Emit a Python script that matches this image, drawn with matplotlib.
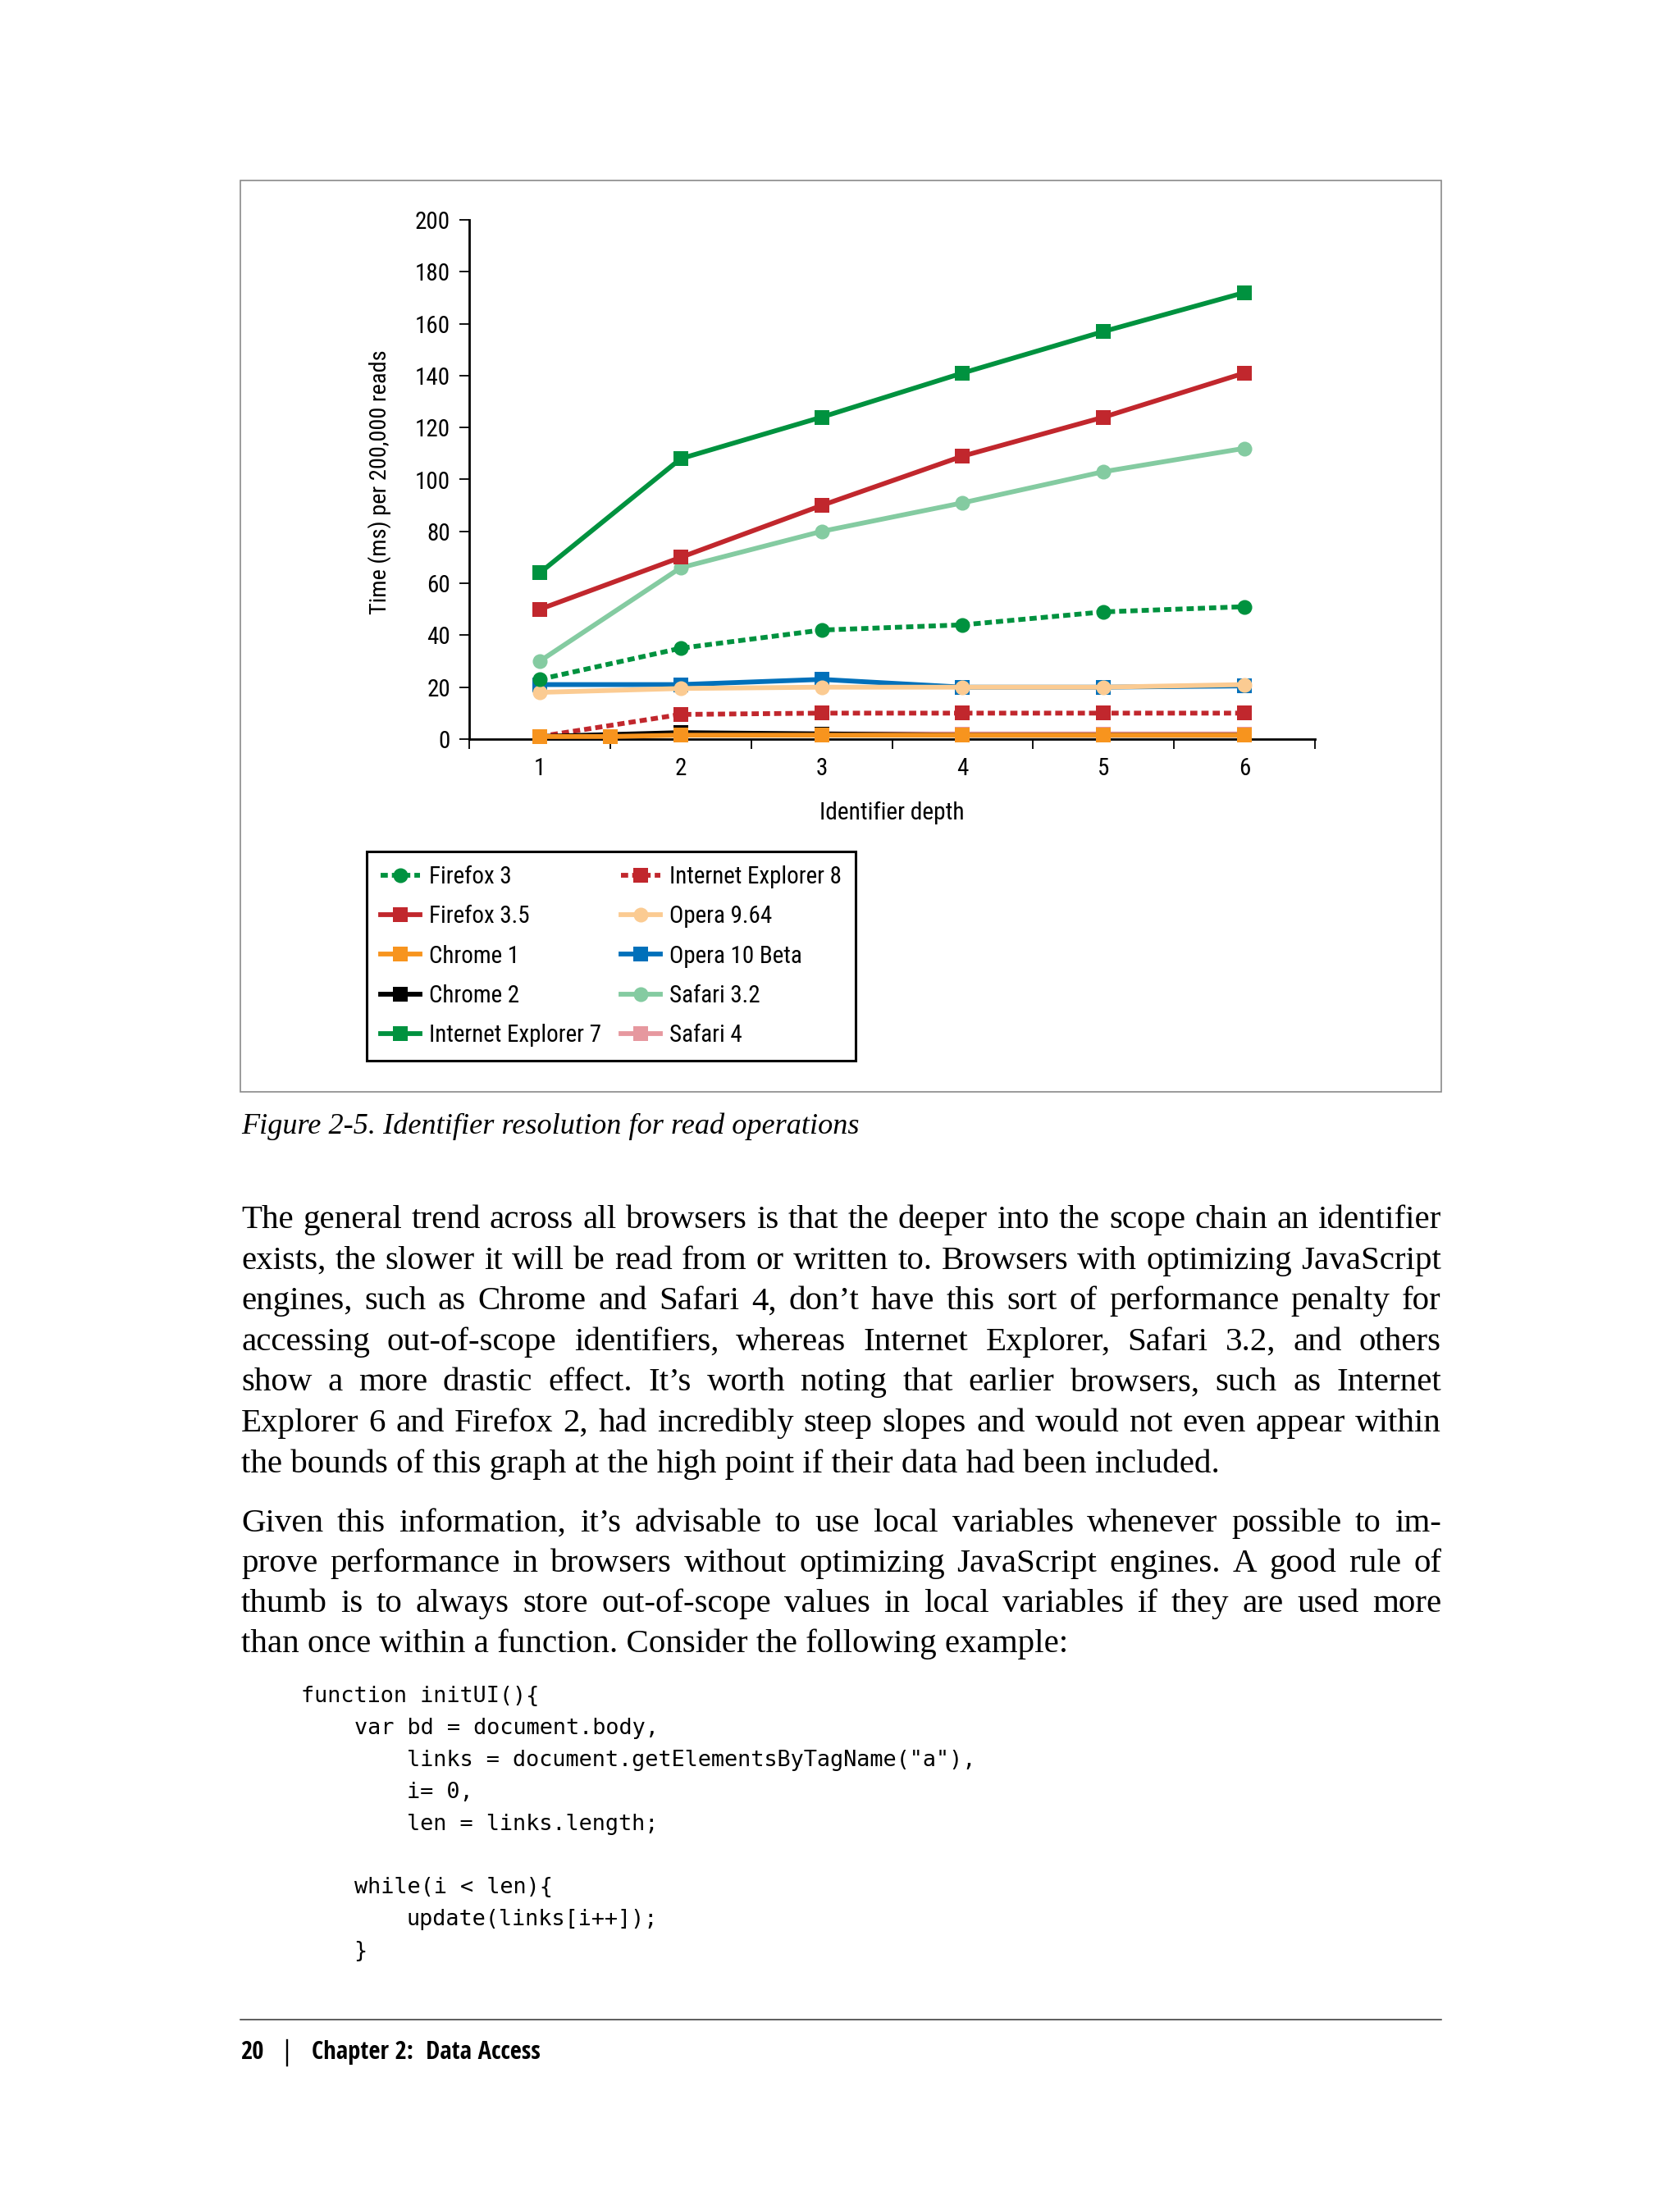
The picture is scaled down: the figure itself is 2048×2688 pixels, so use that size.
import os
import matplotlib
matplotlib.use("Agg")
import matplotlib.pyplot as plt
from matplotlib import font_manager as fm
from matplotlib.font_manager import FontProperties
from matplotlib.lines import Line2D
from matplotlib.patches import Rectangle

# ---------------- data ----------------
depth = [1, 2, 3, 4, 5, 6]
chrome1_depth = [1, 1.5, 2, 3, 4, 5, 6]

firefox3 = [23, 35, 42, 44, 49, 51]
firefox35 = [50, 70, 90, 109, 124, 141]
chrome1 = [1, 1, 1.5, 1.5, 1.5, 1.5, 1.5]
chrome2 = [1, 2.5, 2, 1.5, 1.5, 1.5]
ie7 = [64, 108, 124, 141, 157, 172]
ie8 = [1, 9.5, 10, 10, 10, 10]
opera964 = [18, 19.5, 20, 20, 20, 21]
opera10 = [21, 21, 23, 20, 20, 20.5]
safari32 = [30, 66, 80, 91, 103, 112]
safari4 = [1, 2, 2, 2, 2, 2]

series_names = ["Firefox 3", "Firefox 3.5", "Chrome 1", "Chrome 2", "Internet Explorer 7",
                "Internet Explorer 8", "Opera 9.64", "Opera 10 Beta", "Safari 3.2", "Safari 4"]
y_ticks = [0, 20, 40, 60, 80, 100, 120, 140, 160, 180, 200]
x_ticks = [1, 2, 3, 4, 5, 6]

x_label = "Identifier depth"
y_label = "Time (ms) per 200,000 reads"
caption = "Figure 2-5. Identifier resolution for read operations"

para1 = [
    "The general trend across all browsers is that the deeper into the scope chain an identifier",
    "exists, the slower it will be read from or written to. Browsers with optimizing JavaScript",
    "engines, such as Chrome and Safari 4, don\u2019t have this sort of performance penalty for",
    "accessing out-of-scope identifiers, whereas Internet Explorer, Safari 3.2, and others",
    "show a more drastic effect. It\u2019s worth noting that earlier browsers, such as Internet",
    "Explorer 6 and Firefox 2, had incredibly steep slopes and would not even appear within",
    "the bounds of this graph at the high point if their data had been included.",
]
para2 = [
    "Given this information, it\u2019s advisable to use local variables whenever possible to im-",
    "prove performance in browsers without optimizing JavaScript engines. A good rule of",
    "thumb is to always store out-of-scope values in local variables if they are used more",
    "than once within a function. Consider the following example:",
]
code_lines = [
    "function initUI(){",
    "    var bd = document.body,",
    "        links = document.getElementsByTagName(\"a\"),",
    "        i= 0,",
    "        len = links.length;",
    "",
    "    while(i < len){",
    "        update(links[i++]);",
    "    }",
]
footer_num = "20"
footer_text = "Chapter 2:  Data Access"

# ---------------- fonts ----------------
def pick(cands):
    for c in cands:
        try:
            fm.findfont(FontProperties(family=c), fallback_to_default=False)
            return c
        except Exception:
            pass
    return "DejaVu Sans"


def wnum(e):
    w = e.weight
    if isinstance(w, str):
        return {"normal": 400, "regular": 400, "book": 400, "medium": 500,
                "semibold": 600, "demibold": 600, "bold": 700}.get(w.lower(), 400)
    return int(w)


def is_cond(e):
    fn = os.path.basename(e.fname).lower()
    st = str(e.stretch).lower()
    if "[" in fn or "extra" in st or "ultra" in st:
        return False
    flat = fn.replace("-", "").replace("_", "")
    if "extracondensed" in flat or "ultracondensed" in flat:
        return False
    return "condensed" in st or "narrow" in fn or "condensed" in fn


def find_cond(bold):
    pref = ["Noto Sans", "Open Sans", "Roboto Condensed", "Roboto",
            "Liberation Sans Narrow", "DejaVu Sans"]
    cands = []
    for e in fm.fontManager.ttflist:
        if not is_cond(e) or e.style != "normal":
            continue
        w = wnum(e)
        if (bold and w != 700) or ((not bold) and w != 400):
            continue
        pi = len(pref)
        for i, p in enumerate(pref):
            if e.name.startswith(p):
                pi = i
                break
        semi = 0 if str(e.stretch).lower() == "condensed" else 1
        cands.append((pi, semi, e.fname))
    cands.sort()
    return cands[0][2] if cands else None


COND_REG = find_cond(False)
COND_BOLD = find_cond(True)
SANS = pick(["Liberation Sans", "DejaVu Sans"])
SERIF = pick(["Liberation Serif", "DejaVu Serif"])
MONO = pick(["DejaVu Sans Mono", "Liberation Mono"])
plt.rcParams["font.family"] = [SANS, "DejaVu Sans"]


def cfp(size, bold=False):
    f = COND_BOLD if bold else COND_REG
    if f is None and bold and COND_REG is not None:
        return FontProperties(fname=COND_REG, size=size, weight="bold")
    if f is None:
        return FontProperties(family=SANS, size=size, weight="bold" if bold else "normal")
    return FontProperties(fname=f, size=size)


W, H = 2048, 2688
fig = plt.figure(figsize=(W / 100, H / 100), dpi=100, facecolor="white")
renderer = fig.canvas.get_renderer()


def fx(px):
    return px / W


def fy(py):
    return 1 - py / H


def tw(s, fp):
    return renderer.get_text_width_height_descent(s, fp, ismath=False)[0]


def th(s, fp):
    return renderer.get_text_width_height_descent(s, fp, ismath=False)[1]


def fit(s, target, **kw):
    fp = FontProperties(size=10, **kw)
    return 10 * target / tw(s, fp)


def fit_cond(s, target, bold=False):
    return 10 * target / tw(s, cfp(10, bold))


PAGE_L, PAGE_R = 293, 1757

# ---------------- chart frame ----------------
fig.patches.append(Rectangle((fx(PAGE_L), fy(1331)), fx(PAGE_R) - fx(PAGE_L), fy(220) - fy(1331),
                             transform=fig.transFigure, facecolor="none",
                             edgecolor="#8a8a8a", linewidth=1.2, zorder=0))

ax = fig.add_axes([fx(572), fy(901), fx(1603) - fx(572), fy(268) - fy(901)])
ax.set_xlim(depth[0] - 0.5, depth[-1] + 0.5)
ax.set_ylim(y_ticks[0], y_ticks[-1])

GREEN = "#00923F"
RED = "#C1272D"
styles = {
    "Firefox 3": dict(color=GREEN, ls=(0, (1.5, 0.85)), marker="o", ms=13),
    "Firefox 3.5": dict(color=RED, ls="-", marker="s", ms=12.5),
    "Chrome 1": dict(color="#F7941E", ls="-", marker="s", ms=12.5),
    "Chrome 2": dict(color="#000000", ls="-", marker="s", ms=12.5),
    "Internet Explorer 7": dict(color=GREEN, ls="-", marker="s", ms=12.5),
    "Internet Explorer 8": dict(color=RED, ls=(0, (1.5, 0.85)), marker="s", ms=12.5),
    "Opera 9.64": dict(color="#FBCB92", ls="-", marker="o", ms=13),
    "Opera 10 Beta": dict(color="#0070BA", ls="-", marker="s", ms=12.5),
    "Safari 3.2": dict(color="#84CBA1", ls="-", marker="o", ms=13),
    "Safari 4": dict(color="#E6989F", ls="-", marker="s", ms=12.5),
}
xs = {
    "Firefox 3": depth, "Firefox 3.5": depth, "Chrome 1": chrome1_depth, "Chrome 2": depth,
    "Internet Explorer 7": depth, "Internet Explorer 8": depth, "Opera 9.64": depth,
    "Opera 10 Beta": depth, "Safari 3.2": depth, "Safari 4": depth,
}
ys = {
    "Firefox 3": firefox3, "Firefox 3.5": firefox35, "Chrome 1": chrome1, "Chrome 2": chrome2,
    "Internet Explorer 7": ie7, "Internet Explorer 8": ie8, "Opera 9.64": opera964,
    "Opera 10 Beta": opera10, "Safari 3.2": safari32, "Safari 4": safari4,
}

handles = {}
for z, name in enumerate(reversed(series_names)):
    st = styles[name]
    ln, = ax.plot(xs[name], ys[name], color=st["color"], linestyle=st["ls"], linewidth=4.2,
                  marker=st["marker"], markersize=st["ms"], markeredgewidth=0,
                  clip_on=False, zorder=2 + z, label=name)
    handles[name] = ln

for side in ["top", "right"]:
    ax.spines[side].set_visible(False)
for side in ["left", "bottom"]:
    ax.spines[side].set_linewidth(2.0)
    ax.spines[side].set_color("black")
    ax.spines[side].set_zorder(1)

if COND_REG is not None:
    lab_fs = fit_cond("Internet Explorer 8", 208)
else:
    lab_fs = 22.0
lab_fp = cfp(lab_fs)

ax.set_yticks(y_ticks)
ax.set_yticklabels([str(v) for v in y_ticks], fontproperties=lab_fp)
ax.set_xticks(x_ticks)
ax.set_xticklabels([str(v) for v in x_ticks], fontproperties=lab_fp)
ax.set_xticks([d - 0.5 for d in depth] + [depth[-1] + 0.5], minor=True)
ax.tick_params(axis="y", direction="out", length=8.5, width=1.3, pad=8, colors="black")
ax.tick_params(axis="x", which="major", length=0, pad=16)
ax.tick_params(axis="x", which="minor", direction="out", length=8.5, width=1.3)
ax.set_facecolor("none")

xl_fs = fit_cond(x_label, 175) if COND_REG else 22.0
ax.set_xlabel(x_label, fontproperties=cfp(xl_fs), va="center")
ax.xaxis.set_label_coords(0.5, (901 - 991) / (901 - 268))
yl_fs = fit_cond(y_label, 318) if COND_REG else 18.0
ax.set_ylabel(y_label, fontproperties=cfp(yl_fs), va="center")
ax.yaxis.set_label_coords((463 - 572) / (1603 - 572), (901 - 588) / (901 - 268))

fs_px = lab_fs * 100 / 72
row_h = th("lp", lab_fp)
lab_sp = max(0.1, (48.3 - row_h) / fs_px)
leg = fig.legend([handles[nm] for nm in series_names], series_names, ncol=2,
                 loc="upper left", bbox_to_anchor=(fx(447), fy(1038)),
                 bbox_transform=fig.transFigure, frameon=True, fancybox=False,
                 edgecolor="black", framealpha=1, borderaxespad=0,
                 borderpad=(31 - row_h / 2) / fs_px,
                 handlelength=48 / fs_px, handletextpad=11 / fs_px,
                 columnspacing=24 / fs_px, labelspacing=lab_sp, prop=lab_fp)
leg.get_frame().set_linewidth(2.2)

# ---------------- caption ----------------
cap_fs = fit(caption, 756, family=SERIF, style="italic")
fig.text(fx(294), fy(1382), caption, family=SERIF, style="italic", fontsize=cap_fs,
         va="baseline", ha="left")

# ---------------- body text (justified) ----------------
X0, X1 = 294, PAGE_R
WIDTH = X1 - X0


def body_size(lines, base=29.5):
    fp = FontProperties(family=SERIF, size=10)
    sp = tw("a a", fp) - tw("aa", fp)
    best = base
    for line in lines[:-1]:
        words = line.split(" ")
        wsum = sum(tw(w, fp) for w in words)
        s = 10 * WIDTH / (wsum + (len(words) - 1) * 0.6 * sp)
        best = min(best, s)
    return best


def draw_justified(lines, baselines, fs):
    fp = FontProperties(family=SERIF, size=fs)
    for i, (line, yb) in enumerate(zip(lines, baselines)):
        if i == len(lines) - 1:
            fig.text(fx(X0), fy(yb), line, fontproperties=fp, va="baseline", ha="left")
            continue
        words = line.split(" ")
        ws = [tw(w, fp) for w in words]
        gap = (WIDTH - sum(ws)) / (len(words) - 1)
        x = X0
        for w, wd in zip(words, ws):
            fig.text(fx(x), fy(yb), w, fontproperties=fp, va="baseline", ha="left")
            x += wd + gap


body_fs = min(body_size(para1), body_size(para2))
draw_justified(para1, [1497 + 49.6 * k for k in range(len(para1))], body_fs)
draw_justified(para2, [1867 + 49.0 * k for k in range(len(para2))], body_fs)

# ---------------- code ----------------
mono_fs = fit("M" * 20, 16.25 * 20, family=MONO)
charw = tw("M" * 20, FontProperties(family=MONO, size=mono_fs)) / 20
for k, line in enumerate(code_lines):
    if not line.strip():
        continue
    indent = len(line) - len(line.lstrip(" "))
    fig.text(fx(367 + indent * charw), fy(2075 + 38.9 * k), line.strip(), family=MONO,
             fontsize=mono_fs, va="baseline", ha="left")

# ---------------- footer ----------------
fig.add_artist(Line2D([fx(PAGE_L), fx(PAGE_R)], [fy(2462), fy(2462)], transform=fig.transFigure,
                      color="#333333", linewidth=1.1))
foot_fs = fit_cond(footer_text, 278, bold=True)
foot_fp = cfp(foot_fs, bold=True)
fig.text(fx(293), fy(2510), footer_num, fontproperties=foot_fp, va="baseline", ha="left")
fig.add_artist(Line2D([fx(350), fx(350)], [fy(2487), fy(2518)], transform=fig.transFigure,
                      color="black", linewidth=1.7))
fig.text(fx(380), fy(2510), footer_text, fontproperties=foot_fp, va="baseline", ha="left")

fig.savefig("out.png", dpi=100, facecolor="white")
